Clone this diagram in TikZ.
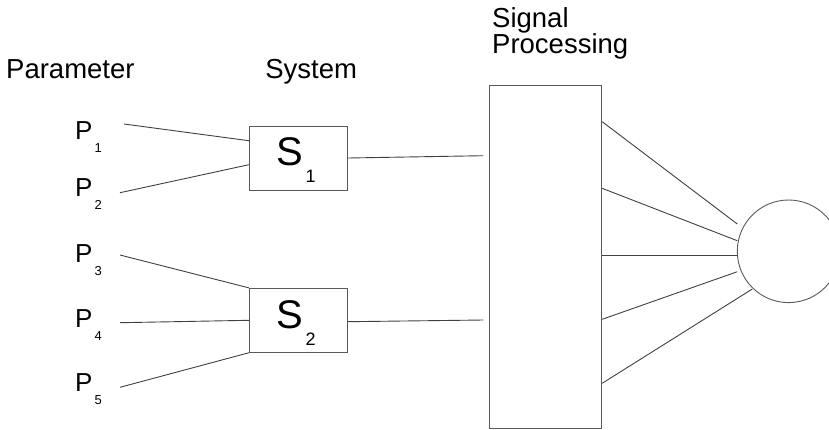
\documentclass[tikz,border=0pt]{standalone}
\usepackage{fontspec}
\setmainfont{Liberation Sans}
\begin{document}
\begin{tikzpicture}[x=1pt,y=-1pt,
  wire/.style={draw=black!75,line width=0.9pt},
  blockbox/.style={draw=black!65,line width=0.9pt,rectangle,inner sep=0pt},
  head/.style={anchor=base west,inner sep=0pt,font=\fontsize{27.5}{31}\selectfont},
  plab/.style={anchor=base west,inner sep=0pt,font=\fontsize{26}{30}\selectfont},
  psub/.style={anchor=base west,inner sep=0pt,font=\fontsize{13}{15}\selectfont},
  slab/.style={anchor=base west,inner sep=0pt,font=\fontsize{40}{46}\selectfont},
  ssub/.style={anchor=base west,inner sep=0pt,font=\fontsize{18}{21}\selectfont}]
\useasboundingbox (0,0) rectangle (829,429);

% column headings
\node[head] (hpar) at (6,78.5) {Parameter};
\node[head] (hsys) at (265.2,78.5) {System};
\node[head] (hsig) at (492,27.5) {Signal};
\node[head] (hproc) at (492,53.5) {Processing};

% parameter labels
\node[plab] (p1) at (75,139.5) {P}; \node[psub] (p1s) at (94.5,152.5) {1};
\node[plab] (p2) at (75,196.8) {P}; \node[psub] (p2s) at (94.5,209.8) {2};
\node[plab] (p3) at (75,262.8) {P}; \node[psub] (p3s) at (94.5,275.8) {3};
\node[plab] (p4) at (75,327.8) {P}; \node[psub] (p4s) at (94.5,340.8) {4};
\node[plab] (p5) at (75,391.8) {P}; \node[psub] (p5s) at (94.5,404.8) {5};

% system blocks
\node[blockbox,minimum width=98pt,minimum height=64pt] (s1) at (298.3,158) {};
\node[blockbox,minimum width=98pt,minimum height=64pt] (s2) at (298.3,320.3) {};
\node[slab] (s1t) at (276.5,165.5) {S};  \node[ssub] (s1s) at (305.5,182.5) {1};
\node[slab] (s2t) at (276.5,328) {S};    \node[ssub] (s2s) at (305.5,345) {2};

% signal processing block and output circle
\node[blockbox,minimum width=112.4pt,minimum height=342.3pt] (sp) at (545.5,256.8) {};
\node[draw=black!65,line width=0.9pt,circle,inner sep=0pt,minimum size=102.6pt] (out) at (788.6,251.3) {};

% free ends of the connectors
\coordinate (a1) at (124,124);
\coordinate (a2) at (120,192.7);
\coordinate (a3) at (120,255);
\coordinate (a4) at (120,322.7);
\coordinate (a5) at (120,387.3);
\coordinate (b1) at (483.3,155.7);
\coordinate (b2) at (483.3,320);
\coordinate (c1) at (737.3,224);
\coordinate (c2) at (737.3,240.7);
\coordinate (c3) at (737.3,255);
\coordinate (c4) at (737.3,271.7);
\coordinate (c5) at (752.3,289);

% parameters into the systems
\draw[wire] (a1) -- (s1.west |- 0,140.7);
\draw[wire] (a2) -- (s1.west |- 0,164.7);
\draw[wire] (a3) -- (s2.north west);
\draw[wire] (a4) -- (s2.west);
\draw[wire] (a5) -- (s2.south west);

% systems into signal processing
\draw[wire] (s1.east) -- (b1);
\draw[wire] (s2.east |- 0,321.7) -- (b2);

% signal processing into the circle
\draw[wire] (sp.east |- 0,121.7) -- (c1);
\draw[wire] (sp.east |- 0,188.3) -- (c2);
\draw[wire] (sp.east |- 0,255) -- (c3);
\draw[wire] (sp.east |- 0,319.3) -- (c4);
\draw[wire] (sp.east |- 0,383.3) -- (c5);
\end{tikzpicture}
\end{document}
